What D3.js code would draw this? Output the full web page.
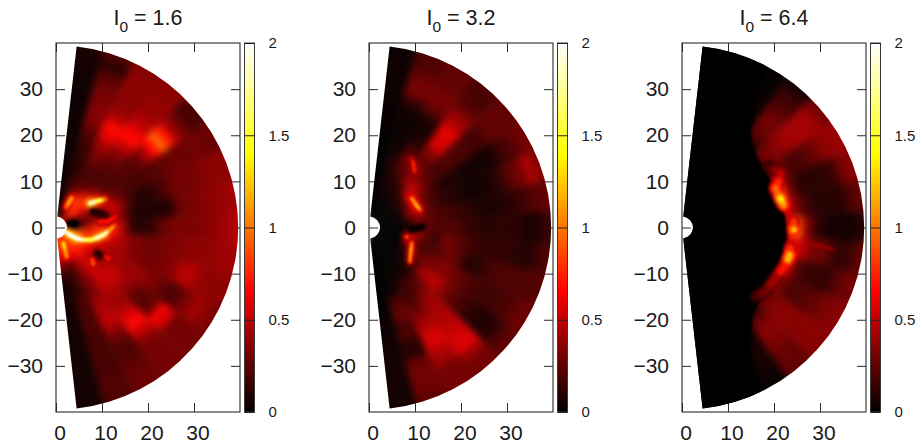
<!DOCTYPE html>
<html><head><meta charset="utf-8">
<style>html,body{margin:0;padding:0;background:#fff;overflow:hidden}svg{display:block}</style>
<script src="https://cdn.jsdelivr.net/npm/d3@7/dist/d3.min.js"></script>
</head><body><div id="chart"></div>
<script>
const radii = [3,5,7,9,11,13,15,17,19,21,23,25,27,29,31,33,35,37,39];
const lats = [80,70,60,50,40,30,20,10,0,-10,-20,-30,-40,-50,-60,-70,-80];
const xTicks = [0,10,20,30];
const yTicks = [-30,-20,-10,0,10,20,30];
const cbTicks = [0,0.5,1,1.5,2];
const titles = ["1.6","3.2","6.4"];
const cmapStops = [0,0.66,1.4,2];
const cmapColors = ["#000000","#ff0000","#ffff00","#ffffff"];

const panelA = [
[.02,.02,.02,.03,.03,.03,.03,.03,.03,.03,.03,.03,.03,.03,.04,.05,.05,.05,.07],
[.05,.1,.2,.18,.15,.12,.12,.13,.15,.2,.28,.34,.34,.32,.3,.27,.2,.1,.2],
[.3,.55,.8,.35,.2,.18,.22,.28,.36,.45,.62,.68,.48,.38,.36,.36,.36,.36,.34],
[.5,.8,.9,.55,.25,.18,.18,.22,.28,.35,.52,.68,.62,.48,.42,.38,.38,.36,.36],
[.55,.8,.7,.9,.5,.22,.18,.2,.22,.22,.28,.42,.68,.95,.72,.42,.28,.18,.2],
[.6,.5,.55,.85,.55,.35,.25,.2,.18,.18,.2,.22,.25,.28,.28,.28,.3,.27,.27],
[.45,.3,.3,.4,.45,.55,.35,.18,.1,.09,.14,.2,.28,.3,.3,.32,.35,.36,.37],
[.15,.15,.25,.4,.45,.5,.3,.1,.07,.08,.08,.1,.26,.3,.32,.35,.37,.38,.42],
[.1,.12,.45,.8,.8,.75,.35,.1,.1,.14,.25,.3,.32,.32,.33,.35,.38,.42,.45],
[.85,.95,.85,.75,.75,.55,.42,.33,.3,.28,.3,.32,.33,.35,.37,.37,.38,.4,.42],
[.95,.85,.6,.55,.5,.42,.42,.35,.32,.3,.3,.32,.36,.45,.48,.4,.36,.36,.37],
[.95,.95,.65,.55,.55,.45,.42,.4,.4,.38,.34,.3,.24,.18,.25,.34,.42,.37,.32],
[.75,.85,.75,.5,.4,.45,.52,.5,.4,.33,.24,.22,.28,.62,.55,.3,.3,.3,.3],
[.75,.85,.65,.55,.55,.52,.52,.48,.42,.4,.45,.58,.68,.52,.36,.3,.3,.3,.3],
[.8,.8,.6,.4,.35,.33,.3,.35,.42,.45,.5,.42,.3,.22,.2,.22,.25,.27,.27],
[.9,.9,.5,.2,.15,.15,.15,.18,.2,.2,.2,.18,.18,.18,.18,.18,.2,.2,.2],
[.7,.8,.5,.3,.1,.05,.05,.05,.05,.05,.05,.05,.05,.05,.05,.05,.05,.05,.05]
];
const panelB = [
[0,0,0,0,0,0,0,0,.01,.01,.02,.02,.02,.03,.03,.03,.03,.03,.03],
[0,0,.02,.04,.06,.08,.1,.06,.04,.03,.03,.04,.05,.15,.3,.3,.25,.2,.2],
[0,0,.02,.06,.1,.15,.25,.3,.2,.1,.06,.05,.1,.25,.3,.3,.25,.25,.25],
[0,0,.03,.08,.15,.4,.35,.3,.25,.35,.55,.55,.6,.45,.38,.25,.2,.17,.2],
[0,.01,.05,.12,.55,.5,.3,.22,.17,.2,.2,.2,.2,.16,.18,.25,.25,.25,.25],
[0,.01,.05,.2,.65,.3,.22,.13,.08,.08,.06,.05,.05,.05,.07,.15,.2,.25,.3],
[0,0,.04,.3,.55,.28,.18,.12,.1,.07,.05,.04,.06,.09,.15,.25,.3,.45,.35],
[0,0,.02,.18,.35,.25,.2,.18,.15,.12,.1,.07,.07,.08,.1,.13,.18,.22,.25],
[0,0,0,.03,.3,.25,.2,.2,.2,.15,.12,.1,.1,.12,.11,.1,.06,.08,.15],
[0,0,0,.6,.4,.2,.15,.3,.25,.2,.15,.12,.12,.12,.12,.1,.09,.14,.2],
[0,0,0,.5,.2,.18,.2,.25,.3,.2,.1,.1,.15,.2,.2,.2,.2,.2,.22],
[0,0,0,.1,.3,.25,.3,.32,.35,.3,.25,.2,.17,.15,.16,.18,.2,.25,.28],
[0,0,0,.05,.1,.18,.4,.45,.48,.35,.25,.2,.15,.1,.08,.08,.12,.2,.25],
[0,0,0,.02,.04,.1,.2,.25,.35,.4,.42,.45,.47,.5,.55,.58,.4,.3,.3],
[0,0,0,.01,.03,.08,.15,.15,.2,.28,.38,.45,.55,.55,.45,.4,.3,.3,.3],
[0,0,0,0,.01,.02,.03,.2,.25,.25,.18,.2,.1,.1,.25,.28,.3,.28,.25],
[0,0,0,0,0,0,0,0,.02,.03,.03,.04,.05,.05,.05,.05,.05,.05,.05]
];
const panelC = [
[0,0,0,0,0,0,0,0,0,0,0,0,0,0,0,0,0,0,0],
[0,0,0,0,0,0,0,0,0,0,0,0,0,0,0,0,0,0,0],
[0,0,0,0,0,0,0,0,0,0,0,0,0,.01,.03,.02,.01,.01,.01],
[0,0,0,0,0,0,0,0,0,0,.05,.2,.25,.3,.28,.22,.17,.14,.06],
[0,0,0,0,0,0,0,0,0,.02,.3,.3,.35,.4,.42,.42,.42,.38,.3],
[0,0,0,0,0,0,0,0,0,.1,.35,.3,.18,.18,.22,.28,.35,.38,.4],
[0,0,0,0,0,0,0,0,0,.2,.8,.3,.12,.1,.1,.12,.15,.3,.35],
[0,0,0,0,0,0,0,0,0,0,.6,.35,.2,.12,.1,.1,.1,.18,.25],
[0,0,0,0,0,0,0,0,0,0,.4,1,.4,.15,.08,.06,.05,.05,.1],
[0,0,0,0,0,0,0,0,0,0,.6,.6,.45,.3,.28,.18,.12,.15,.25],
[0,0,0,0,0,0,0,0,0,0,.8,.45,.2,.15,.14,.12,.2,.26,.3],
[0,0,0,0,0,0,0,0,0,.1,.5,.3,.2,.2,.22,.25,.3,.33,.35],
[0,0,0,0,0,0,0,0,0,0,.3,.3,.35,.35,.35,.35,.35,.35,.35],
[0,0,0,0,0,0,0,0,0,0,.05,.2,.3,.35,.33,.3,.26,.26,.25],
[0,0,0,0,0,0,0,0,0,0,0,0,.02,.04,.06,.06,.05,.03,.02],
[0,0,0,0,0,0,0,0,0,0,0,0,0,0,0,0,0,0,0],
[0,0,0,0,0,0,0,0,0,0,0,0,0,0,0,0,0,0,0]
];
// Thin features: [x, y, value] in data units
const streaksA = [
[[2,-.9,1.9],[3,-1.6,2],[4.5,-2.35,2],[6,-2.7,1.6],[7.4,-2.7,1.6],[9,-2.2,1.9],[10.3,-1.6,1.8],[11.6,-.6,1.1],[12.8,.5,.8]],
[[7.4,5.25,1.9],[8.2,5.5,1.8],[9.2,5.8,1.5],[10.6,6.1,.9]],
[[3.4,6.3,1.1],[2.8,5.4,1.1],[2.3,4.5,.9]],
[[1.6,-3.4,1.3],[2,-5,1.1],[2.3,-6.3,1]],
[[3,.9,0],[4.2,.8,0]],
[[8,3.4,.1],[9.2,3.1,.1],[10.8,2.6,.15]],
[[9.5,1.2,.7],[11.5,1.4,.7],[13,2.4,.6]],
[[7.8,-7,.8],[8.1,-7.8,.9]],
[[9,-5.6,.12],[9.8,-6.2,.12]],
[[10.8,-6.3,.6],[11.4,-6.7,.7]]
];
const streaksB = [
[[9.3,6.3,1.1],[10.2,5,1.2],[11.1,3.8,.85]],
[[9.2,15,.55],[9.6,14,.75],[10,12,.6]],
[[8.2,-2,.95]],
[[9.3,-3.4,1],[9.2,-4.5,1.1],[9,-6,1.05],[8.9,-7.4,.9]],
[[8.9,-.5,0],[10.3,-.2,0],[11.7,.2,.02]]
];
const streaksC = [
[[18.8,13.2,.2],[20,12.6,.35],[21.4,11.8,.5],[21,10,.75],[20.3,8.5,.95],[21.4,6.3,1.35],[22.1,4.9,1.1]],
[[24.3,1.3,.8],[24.3,-.5,1.2]],
[[23.5,-4.5,.8],[23.4,-6,1.2],[22.5,-8.2,.7],[20.6,-10.7,.42],[18.5,-13.6,.3],[16.3,-15,.2]]
];
const faintC = [[[27,-3.4,.4],[30,-4,.4],[33,-4.8,.28]]];
// Edge of the dark interior of the third panel: [latitude, radius]
const coreC = [[90,41],[65,41],[59,31],[54,25.5],[46,22.8],[30,21.8],[20,21.8],[10,22.2],[0,22.8],[-10,23],[-20,22.8],[-30,22.6],[-40,23],[-50,24.4],[-56,27],[-61,31],[-66,41],[-90,41]];

const panels = [
 {x0:56, values:panelA, streaks:streaksA, faint:[], core:null, blur:3.6, streakW:4.2, streakBlur:.9, glow:2.2},
 {x0:369, values:panelB, streaks:streaksB, faint:[], core:null, blur:3.6, streakW:3.4, streakBlur:1.2, glow:2.8},
 {x0:682, values:panelC, streaks:streaksC, faint:faintC, core:coreC, blur:3.5, streakW:7, streakBlur:1.6, glow:1.8}
];

const W=917,H=442,plotW=184,topY=43,bottomY=412;
const svg=d3.select("#chart").append("svg").attr("width",W).attr("height",H).attr("viewBox",[0,0,W,H]);
const font="'Liberation Sans',Arial,sans-serif", ink="#2a2a2a";
const color=d3.scaleLinear().domain(cmapStops).range(cmapColors).clamp(true);
const x=d3.scaleLinear().domain([0,40]).range([0,plotW]);
const y=d3.scaleLinear().domain([-40,40]).range([bottomY,topY]);
const rPx=d3.scaleLinear().domain([0,40]).range([0,plotW]);
const ang=d3.scaleLinear().domain([90,-90]).range([0,Math.PI]);
const arc=d3.arc();
const defs=svg.append("defs");
const grad=defs.append("linearGradient").attr("id","cb").attr("x1",0).attr("x2",0).attr("y1",1).attr("y2",0);
cmapStops.forEach((s,i)=>grad.append("stop").attr("offset",s/2).attr("stop-color",cmapColors[i]));
function addBlur(id,sd){
  defs.append("filter").attr("id",id).attr("filterUnits","userSpaceOnUse")
    .attr("x",-20).attr("y",-240).attr("width",260).attr("height",480)
    .attr("color-interpolation-filters","sRGB")
    .append("feGaussianBlur").attr("stdDeviation",sd);
}

panels.forEach((p,pi)=>{
  const g=svg.append("g").attr("transform",`translate(${p.x0},0)`);
  defs.append("clipPath").attr("id","w"+pi).append("path")
    .attr("transform",`translate(0,${y(0)})`)
    .attr("d",arc({innerRadius:rPx(2.4),outerRadius:rPx(39.6),startAngle:ang(83.5),endAngle:ang(-83.5)}));
  addBlur("b"+pi,p.blur); addBlur("s"+pi,p.streakBlur); addBlur("g"+pi,p.glow);
  // tick marks, under the map
  const ticks=g.append("g");
  const mk=(ax,tx,ty,vals)=>{
    const a=ticks.append("g").attr("transform",`translate(${tx},${ty})`)
      .call(ax.tickValues(vals).tickSize(9).tickFormat(""));
    a.select(".domain").remove();
    a.selectAll("line").attr("stroke",ink).attr("stroke-width",1);
  };
  mk(d3.axisBottom(x),0,topY,xTicks);
  mk(d3.axisTop(x),0,bottomY,xTicks);
  mk(d3.axisRight(y),0,0,yTicks);
  mk(d3.axisLeft(y),plotW,0,yTicks);
  // map
  const map=g.append("g").attr("clip-path",`url(#w${pi})`).append("g").attr("transform",`translate(0,${y(0)})`);
  const cells=map.append("g").attr("filter",`url(#b${pi})`);
  lats.forEach((la,i)=>radii.forEach((r,j)=>{
    const v=p.values[i][j];
    cells.append("path").attr("fill",color(v)).attr("stroke",color(v)).attr("stroke-width",.5)
      .attr("d",arc({innerRadius:j===0?0:rPx(r-1),outerRadius:j===radii.length-1?rPx(46):rPx(r+1),
        startAngle:i===0?ang(100):ang(la+5),endAngle:i===lats.length-1?ang(-100):ang(la-5)}));
  }));
  if(p.core){
    map.append("path").attr("filter",`url(#g${pi})`).attr("fill","#000")
      .attr("d",d3.areaRadial().angle(d=>ang(d[0])).innerRadius(0).outerRadius(d=>rPx(d[1])).curve(d3.curveCatmullRom)(p.core));
  }
  const drawLines=(parent,list,w,gain)=>list.forEach(s=>s.forEach((pt,k)=>{
    const nx=s[Math.min(k+1,s.length-1)];
    parent.append("line").attr("x1",x(pt[0])).attr("y1",y(pt[1])-y(0)).attr("x2",x(nx[0])).attr("y2",y(nx[1])-y(0))
      .attr("stroke",color(pt[2]*gain)).attr("stroke-width",w);
  }));
  const gl=map.append("g").attr("filter",`url(#g${pi})`).attr("fill","none").attr("stroke-linecap","round");
  drawLines(gl,p.streaks,p.streakW*1.9,.62);
  const st=map.append("g").attr("filter",`url(#s${pi})`).attr("fill","none").attr("stroke-linecap","round");
  drawLines(st,p.streaks,p.streakW,1);
  drawLines(st,p.faint,3,1);
  // frame
  g.append("rect").attr("x",0).attr("y",topY).attr("width",plotW).attr("height",bottomY-topY)
    .attr("fill","none").attr("stroke",ink).attr("stroke-width",1.1);
  // tick labels
  const bx=g.append("g").attr("transform",`translate(3.5,${bottomY})`).call(d3.axisBottom(x).tickValues(xTicks).tickSize(0).tickFormat(d3.format("d")));
  bx.select(".domain").remove();
  bx.selectAll("text").attr("y",27.5).attr("dy",0).attr("font-size",21).attr("font-family",font).attr("fill","#1a1a1a");
  const ly=g.append("g").call(d3.axisLeft(y).tickValues(yTicks).tickSize(0).tickPadding(13).tickFormat(d3.format("d")));
  ly.select(".domain").remove();
  ly.selectAll("text").attr("font-size",21).attr("font-family",font).attr("fill","#1a1a1a");
  // title
  const t=g.append("text").attr("x",plotW/2).attr("y",25).attr("text-anchor","middle").attr("font-family",font).attr("font-size",21.5).attr("fill","#1a1a1a");
  t.append("tspan").text("I");
  t.append("tspan").attr("dy",7).attr("font-size",15.5).text("0");
  t.append("tspan").attr("dy",-7).text(" = "+titles[pi]);
  // colour bar
  const cb=d3.scaleLinear().domain([0,2]).range([bottomY,topY]);
  const cg=g.append("g").attr("transform",`translate(${plotW+4.5},0)`);
  cg.append("rect").attr("x",0).attr("y",topY).attr("width",10).attr("height",bottomY-topY).attr("fill","url(#cb)")
    .attr("stroke","#3a3a3a").attr("stroke-width",1);
  const ca=cg.append("g").attr("transform","translate(10,0)").call(d3.axisRight(cb).tickValues(cbTicks).tickSize(-10).tickPadding(14).tickFormat(d3.format("")));
  ca.select(".domain").remove();
  ca.selectAll("line").attr("stroke","#222").attr("stroke-width",1);
  ca.selectAll("text").attr("x",14).attr("font-size",15).attr("font-family",font).attr("fill","#1a1a1a");
});
</script></body></html>
